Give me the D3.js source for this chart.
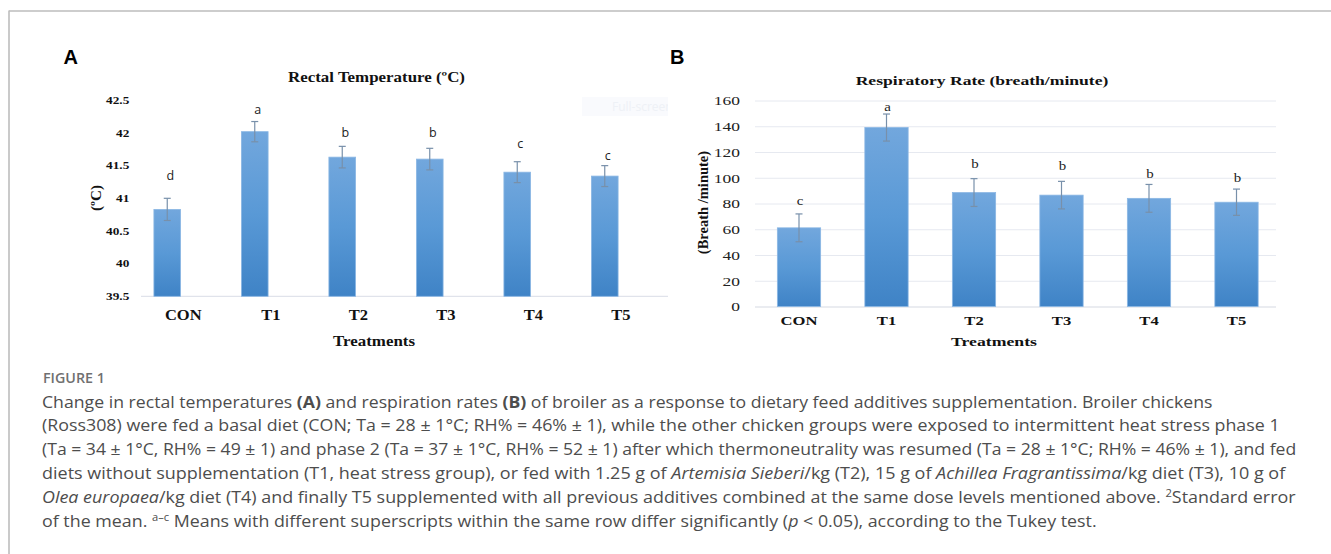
<!DOCTYPE html>
<html>
<head>
<meta charset="utf-8">
<script src="https://cdn.jsdelivr.net/npm/d3@7"></script>
<style>
  html, body { margin: 0; padding: 0; background: #fff; }
  svg { display: block; }
</style>
</head>
<body>
<svg id="chart" width="1331" height="554"></svg>
<script>
// ---------------- DATA ----------------
const categories = ["CON", "T1", "T2", "T3", "T4", "T5"];

const rectalTemp = [40.83, 42.02, 41.63, 41.60, 41.40, 41.34];
const rectalSE = [0.17, 0.155, 0.165, 0.165, 0.16, 0.16];
const rectalLetters = ["d", "a", "b", "b", "c", "c"];
const rectalLetterAt = [41.34, 42.36, 42.0, 42.0, 41.84, 41.66];
const rectalTicks = [39.5, 40, 40.5, 41, 41.5, 42, 42.5];

const respRate = [61.1, 139.0, 88.5, 86.5, 84.0, 81.0];
const respSE = [10.8, 10.5, 10.8, 10.7, 10.8, 10.2];
const respLetters = ["c", "a", "b", "b", "b", "b"];
const respLetterAt = [81.6, 154.8, 110.8, 108.5, 103.0, 99.7];
const respTicks = [0, 20, 40, 60, 80, 100, 120, 140, 160];

const titleA = "Rectal Temperature (ºC)";
const titleB = "Respiratory Rate (breath/minute)";
const yTitleA = "(ºC)";
const yTitleB = "(Breath /minute)";
const xTitle = "Treatments";

const captionHead = "FIGURE 1";
const captionLines = [
  [["Change in rectal temperatures ", ""], ["(A)", "b"], [" and respiration rates ", ""], ["(B)", "b"], [" of broiler as a response to dietary feed additives supplementation. Broiler chickens", ""]],
  [["(Ross308) were fed a basal diet (CON; Ta = 28 ± 1°C; RH% = 46% ± 1), while the other chicken groups were exposed to intermittent heat stress phase 1", ""]],
  [["(Ta = 34 ± 1°C, RH% = 49 ± 1) and phase 2 (Ta = 37 ± 1°C, RH% = 52 ± 1) after which thermoneutrality was resumed (Ta = 28 ± 1°C; RH% = 46% ± 1), and fed", ""]],
  [["diets without supplementation (T1, heat stress group), or fed with 1.25 g of ", ""], ["Artemisia Sieberi", "i"], ["/kg (T2), 15 g of ", ""], ["Achillea Fragrantissima", "i"], ["/kg diet (T3), 10 g of", ""]],
  [["Olea europaea", "i"], ["/kg diet (T4) and finally T5 supplemented with all previous additives combined at the same dose levels mentioned above. ", ""], ["2", "sup"], ["Standard error", ""]],
  [["of the mean. ", ""], ["a–c", "sup"], [" Means with different superscripts within the same row differ significantly (", ""], ["p", "i"], [" < 0.05), according to the Tukey test.", ""]]
];

// ---------------- HELPERS ----------------
const svg = d3.select("#chart");
const SERIF = "'Liberation Serif', 'Times New Roman', serif";
const SANS = "'Liberation Sans', Arial, sans-serif";

function stretch(sel, sx) {
  sel.each(function () {
    const t = d3.select(this);
    const x = +t.attr("x") || 0, y = +t.attr("y") || 0;
    t.attr("x", 0).attr("y", 0).attr("transform", `translate(${x},${y}) scale(${sx},1)`);
  });
}
function fitWidth(sel, w) {
  sel.each(function () {
    const len = this.getComputedTextLength();
    stretch(d3.select(this), w / len);
  });
}

// frame lines
svg.append("line").attr("x1", 9).attr("x2", 9).attr("y1", 10.5).attr("y2", 554)
  .attr("stroke", "#bdbdbd").attr("stroke-width", 1.6);
svg.append("line").attr("x1", 9).attr("x2", 1331).attr("y1", 11).attr("y2", 11)
  .attr("stroke", "#bdbdbd").attr("stroke-width", 1.6);

// gradient
const defs = svg.append("defs");
const grad = defs.append("linearGradient").attr("id", "barGrad")
  .attr("x1", 0).attr("x2", 0).attr("y1", 0).attr("y2", 1);
grad.append("stop").attr("offset", "0%").attr("stop-color", "#72a7dd");
grad.append("stop").attr("offset", "50%").attr("stop-color", "#5999d6");
grad.append("stop").attr("offset", "100%").attr("stop-color", "#3f83c6");
defs.append("clipPath").attr("id", "fsClip").append("rect")
  .attr("x", 582).attr("y", 97).attr("width", 86).attr("height", 19);

// panel letters
svg.append("text").attr("x", 63.5).attr("y", 64).text("A")
  .attr("font-family", SANS).attr("font-weight", "bold").attr("font-size", 20).attr("fill", "#000");
svg.append("text").attr("x", 670).attr("y", 64).text("B")
  .attr("font-family", SANS).attr("font-weight", "bold").attr("font-size", 20).attr("fill", "#000");

// ---------------- PANEL A ----------------
const xA = d3.scaleBand().domain(categories).range([139.5, 664.5]);
const yA = d3.scaleLinear().domain([39.5, 42.5]).range([296.3, 100.3]);
const barWA = 26.7, offA = -16;
const gA = svg.append("g");

// faint watermark from the source image
gA.append("rect").attr("x", 582).attr("y", 97).attr("width", 86).attr("height", 19).attr("fill", "#f9fafd");
gA.append("text").attr("x", 612).attr("y", 111).text("Full-screen")
  .attr("clip-path", "url(#fsClip)")
  .attr("font-family", "'Open Sans', sans-serif").attr("font-size", 12).attr("fill", "#eef1f6");

gA.append("text").attr("x", 376.5).attr("y", 82.3).attr("text-anchor", "middle").text(titleA)
  .attr("font-family", SERIF).attr("font-weight", "bold").attr("font-size", 15).attr("fill", "#111")
  .call(fitWidth, 177);

const axA = gA.append("g").attr("transform", "translate(133.3,0)")
  .call(d3.axisLeft(yA).tickValues(rectalTicks).tickSize(0).tickPadding(0).tickFormat(d => String(d)));
axA.select(".domain").remove();
axA.selectAll("text").attr("font-family", SERIF).attr("font-weight", "bold")
  .attr("font-size", 9.5).attr("fill", "#111").attr("x", -4).attr("dy", "0.34em")
  .call(stretch, 1.4);

gA.append("line").attr("x1", 141).attr("x2", 668).attr("y1", yA(39.5)).attr("y2", yA(39.5))
  .attr("stroke", "#d9dce6").attr("stroke-width", 1);

gA.selectAll("rect.bar").data(categories).join("rect").attr("class", "bar")
  .attr("x", d => xA(d) + xA.bandwidth() / 2 + offA - barWA / 2)
  .attr("width", barWA)
  .attr("y", (d, i) => yA(rectalTemp[i]))
  .attr("height", (d, i) => yA(39.5) - yA(rectalTemp[i]))
  .attr("fill", "url(#barGrad)").attr("stroke", "#8bb7e4").attr("stroke-width", 0.8);

const ebA = gA.selectAll("g.eb").data(categories).join("g").attr("class", "eb")
  .attr("transform", d => `translate(${xA(d) + xA.bandwidth() / 2 + offA},0)`)
  .attr("stroke", "#7890aa").attr("stroke-width", 1.2);
ebA.append("line").attr("y1", (d, i) => yA(rectalTemp[i] + rectalSE[i])).attr("y2", (d, i) => yA(rectalTemp[i] - rectalSE[i]));
ebA.append("line").attr("x1", -3.5).attr("x2", 3.5).attr("y1", (d, i) => yA(rectalTemp[i] + rectalSE[i])).attr("y2", (d, i) => yA(rectalTemp[i] + rectalSE[i]));
ebA.append("line").attr("x1", -3.5).attr("x2", 3.5).attr("y1", (d, i) => yA(rectalTemp[i] - rectalSE[i])).attr("y2", (d, i) => yA(rectalTemp[i] - rectalSE[i]));

gA.selectAll("text.let").data(categories).join("text").attr("class", "let")
  .attr("x", d => xA(d) + xA.bandwidth() / 2 + offA + 3)
  .attr("y", (d, i) => yA(rectalLetterAt[i])).attr("dy", "0.35em")
  .attr("text-anchor", "middle").text((d, i) => rectalLetters[i])
  .attr("font-family", "'Open Sans', sans-serif").attr("font-size", 12.5).attr("fill", "#222");

gA.selectAll("text.cat").data(categories).join("text").attr("class", "cat")
  .attr("x", d => xA(d) + xA.bandwidth() / 2).attr("y", 320)
  .attr("text-anchor", "middle").text(d => d)
  .attr("font-family", SERIF).attr("font-weight", "bold").attr("font-size", 15).attr("fill", "#111")
  .call(stretch, 1.1);

gA.append("text").attr("x", 374).attr("y", 345.7).attr("text-anchor", "middle").text(xTitle)
  .attr("font-family", SERIF).attr("font-weight", "bold").attr("font-size", 14.5).attr("fill", "#111")
  .call(fitWidth, 82);

gA.append("text").attr("transform", "translate(100.5,198) rotate(-90)").attr("text-anchor", "middle")
  .text(yTitleA).attr("font-family", SERIF).attr("font-weight", "bold").attr("font-size", 15).attr("fill", "#111");

// ---------------- PANEL B ----------------
const xB = d3.scaleBand().domain(categories).range([755.25, 1280.25]);
const yB = d3.scaleLinear().domain([0, 160]).range([306.5, 100.5]);
const barWB = 43.3;
const gB = svg.append("g");

gB.append("text").attr("x", 982).attr("y", 85).attr("text-anchor", "middle").text(titleB)
  .attr("font-family", SERIF).attr("font-weight", "bold").attr("font-size", 12.5).attr("fill", "#111")
  .call(fitWidth, 253);

const axB = gB.append("g").attr("transform", "translate(755,0)")
  .call(d3.axisLeft(yB).tickValues(respTicks).tickSizeInner(-521).tickSizeOuter(0).tickPadding(0));
axB.select(".domain").remove();
axB.selectAll("line").attr("stroke", (d) => d === 0 ? "#d5d9e2" : "#e6e9f0").attr("stroke-width", 1);
axB.selectAll("text").attr("font-family", SERIF).attr("font-size", 12.5).attr("fill", "#222")
  .attr("x", -15).attr("dy", "0.34em").call(stretch, 1.4);

gB.selectAll("rect.bar").data(categories).join("rect").attr("class", "bar")
  .attr("x", d => xB(d) + xB.bandwidth() / 2 - barWB / 2)
  .attr("width", barWB)
  .attr("y", (d, i) => yB(respRate[i]))
  .attr("height", (d, i) => yB(0) - yB(respRate[i]))
  .attr("fill", "url(#barGrad)").attr("stroke", "#8bb7e4").attr("stroke-width", 0.8);

const ebB = gB.selectAll("g.eb").data(categories).join("g").attr("class", "eb")
  .attr("transform", d => `translate(${xB(d) + xB.bandwidth() / 2},0)`)
  .attr("stroke", "#7890aa").attr("stroke-width", 1.2);
ebB.append("line").attr("y1", (d, i) => yB(respRate[i] + respSE[i])).attr("y2", (d, i) => yB(respRate[i] - respSE[i]));
ebB.append("line").attr("x1", -3.5).attr("x2", 3.5).attr("y1", (d, i) => yB(respRate[i] + respSE[i])).attr("y2", (d, i) => yB(respRate[i] + respSE[i]));
ebB.append("line").attr("x1", -3.5).attr("x2", 3.5).attr("y1", (d, i) => yB(respRate[i] - respSE[i])).attr("y2", (d, i) => yB(respRate[i] - respSE[i]));

gB.selectAll("text.let").data(categories).join("text").attr("class", "let")
  .attr("x", d => xB(d) + xB.bandwidth() / 2 + 1)
  .attr("y", (d, i) => yB(respLetterAt[i])).attr("dy", "0.32em")
  .attr("text-anchor", "middle").text((d, i) => respLetters[i])
  .attr("font-family", SERIF).attr("font-size", 11.5).attr("fill", "#222")
  .call(stretch, 1.3);

gB.selectAll("text.cat").data(categories).join("text").attr("class", "cat")
  .attr("x", d => xB(d) + xB.bandwidth() / 2).attr("y", 325)
  .attr("text-anchor", "middle").text(d => d)
  .attr("font-family", SERIF).attr("font-weight", "bold").attr("font-size", 12.5).attr("fill", "#111")
  .call(stretch, 1.33);

gB.append("text").attr("x", 994).attr("y", 346).attr("text-anchor", "middle").text(xTitle)
  .attr("font-family", SERIF).attr("font-weight", "bold").attr("font-size", 12.5).attr("fill", "#111")
  .call(fitWidth, 86);

gB.append("text").attr("transform", "translate(708,202.5) rotate(-90)").attr("text-anchor", "middle")
  .text(yTitleB).attr("font-family", SERIF).attr("font-weight", "bold").attr("font-size", 14.5).attr("fill", "#111");

// ---------------- CAPTION ----------------
const CAP = "'Open Sans', 'Noto Sans', sans-serif";
svg.append("text").attr("x", 43).attr("y", 383.3).text(captionHead)
  .attr("font-family", CAP).attr("font-weight", 600).attr("font-size", 13.5).attr("fill", "#707070")
  .call(fitWidth, 62);

const lineEnds = [1213, 1280, 1297, 1286, 1297, 1097];
captionLines.forEach((segs, li) => {
  const t = svg.append("text").attr("x", 42).attr("y", 407.5 + li * 23.9)
    .attr("font-family", CAP).attr("font-size", 16).attr("fill", "#4d4d4d");
  let pendingDy = 0;
  segs.forEach(([txt, style]) => {
    const ts = t.append("tspan").text(txt);
    if (style === "sup") {
      ts.attr("dy", -6 + pendingDy).attr("font-size", 10);
      pendingDy = 6;
      return;
    }
    if (pendingDy) { ts.attr("dy", pendingDy); pendingDy = 0; }
    if (style === "b") ts.attr("font-weight", "bold");
    if (style === "i") ts.attr("font-style", "italic");
  });
  t.call(fitWidth, lineEnds[li] - 42);
});
</script>
</body>
</html>
